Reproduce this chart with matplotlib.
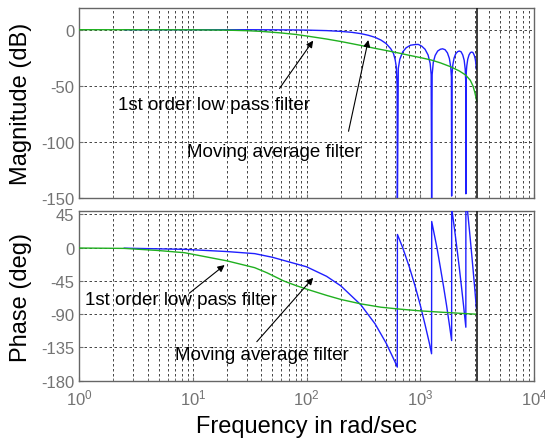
import numpy as np
import matplotlib
matplotlib.use("Agg")
import matplotlib.pyplot as plt

plt.rcParams['font.family'] = ['Liberation Sans', 'DejaVu Sans']
plt.rcParams['mathtext.default'] = 'regular'
plt.rcParams['axes.unicode_minus'] = False

# -------------------------------
# DATA
# -------------------------------

# 1st order low pass filter
lp_mag_w = [1, 10, 20, 30, 40, 60, 80, 100, 150, 200, 300, 400, 500, 628, 800,
            1000, 1250, 1500, 1850, 2200, 2500, 2750, 2900, 3000, 3080, 3140]
lp_mag_db = [0, -0.1, -0.4, -0.9, -1.5, -2.9, -4.2, -5.6, -8.3, -10.5, -14, -16.6,
             -18.5, -20.5, -22.8, -24.8, -27, -29.5, -33, -36.7, -40.3, -45, -50,
             -55, -60, -64]

lp_ph_w = [1, 2.5, 5, 8.5, 20, 35, 45, 63, 80, 100, 150, 200, 300, 450, 650, 1000,
           1500, 2000, 2500, 3140]
lp_ph_deg = [-0.4, -0.9, -3.8, -6.8, -17.8, -27, -34, -45, -51, -56, -64.5, -70,
             -76, -80.5, -83, -85.5, -87.2, -88.3, -89.2, -90]

# moving average filter
ma_mag_w = [2.5, 10, 30, 50, 80, 100, 150, 200, 250, 300, 350, 400, 450, 500, 550,
            580, 600, 615, 625, 628,
            640, 660, 700, 750, 820, 900, 960, 1030, 1100, 1170, 1220, 1245, 1257,
            1270, 1300, 1350, 1420, 1500, 1570, 1650, 1730, 1800, 1850, 1875, 1885,
            1900, 1930, 1980, 2050, 2130, 2200, 2280, 2360, 2430, 2480, 2505, 2513,
            2525, 2560, 2610, 2680, 2760, 2830, 2900, 2980, 3040, 3080, 3110]
ma_mag_db = [0, 0, -0.03, -0.09, -0.23, -0.36, -0.82, -1.5, -2.35, -3.5, -5.0, -6.8,
             -9.2, -12.3, -17, -21, -26.4, -33, -50, -170,
             -34.6, -26.3, -19.8, -16.1, -13.8, -13.2, -13.1, -14.7, -17.4, -22.5,
             -30, -40, -150,
             -40, -29, -22.9, -19, -17.4, -17, -17.8, -20.6, -25.6, -33.2, -42, -148,
             -40, -31.3, -25.2, -21.3, -19.5, -19, -19.6, -22.5, -27.3, -35.1, -45,
             -146,
             -40, -32.3, -26.3, -22.4, -20.3, -19.9, -20.3, -22.8, -26.2, -30.4, -35]

ma_ph_w = [2.5, 8.5, 20, 35, 50, 100, 150, 200, 300, 400, 500, 600, 627,
           629, 700, 800, 900, 1000, 1100, 1200, 1255,
           1259, 1400, 1500, 1600, 1700, 1800, 1884,
           1886, 2000, 2100, 2200, 2300, 2400, 2512,
           2514, 2600, 2700, 2800, 2900, 3000, 3110]
ma_ph_deg = [-0.6, -2.2, -5.2, -8, -12.9, -25.8, -38.7, -51.6, -77.3, -103, -129,
             -154.7, -161.6,
             18, 0, -26, -52, -78, -104, -129, -143.5,
             35.5, 0, -26.7, -52.5, -78, -104, -125.7,
             54, 24.4, -1.4, -27, -53, -78.7, -107.6,
             72, 49.7, 24, -1.8, -27.6, -53, -81.8]

nyquist_w = 3142

mag_ticks = [0, -50, -100, -150]
phase_ticks = [45, 0, -45, -90, -135, -180]
freq_ticks = [1, 10, 100, 1000, 10000]
freq_labels = ['$10^{0}$', '$10^{1}$', '$10^{2}$', '$10^{3}$', '$10^{4}$']

# -------------------------------
# FIGURE
# -------------------------------

blue = '#1f1fff'
green = '#20b020'
grid_kw = dict(color='0.15', linestyle=(0, (3, 3)), linewidth=0.6)
arrow_kw = dict(arrowstyle='-|>', color='k', lw=0.8, mutation_scale=10)

fig = plt.figure(figsize=(5.45, 4.39), dpi=100)
ax1 = fig.add_axes([0.145, 0.546, 0.835, 0.4335])
ax2 = fig.add_axes([0.145, 0.1305, 0.835, 0.3859])

for ax in (ax1, ax2):
    ax.set_xscale('log')
    ax.set_xlim(1, 10000)
    ax.set_xticks(freq_ticks)
    ax.grid(True, which='major', axis='both', **grid_kw)
    ax.grid(True, which='minor', axis='x', **grid_kw)
    ax.tick_params(which='both', direction='in', length=3, colors='0.45',
                   labelsize=12)
    ax.tick_params(which='minor', length=2)
    for s in ax.spines.values():
        s.set_color('0.4')
        s.set_linewidth(1.0)
    ax.axvline(nyquist_w, color='0.1', linewidth=1.2, zorder=4)

# magnitude
ax1.plot(ma_mag_w, ma_mag_db, color=blue, linewidth=1.0, zorder=3)
ax1.plot(lp_mag_w, lp_mag_db, color=green, linewidth=1.0, zorder=3)
ax1.set_ylim(-150, 19.3)
ax1.set_yticks(mag_ticks)
ax1.set_yticklabels([str(t) for t in mag_ticks])
ax1.set_xticklabels([])
ax1.set_ylabel('Magnitude (dB)', fontsize=17)
ax1.yaxis.set_label_coords(-0.103, 0.5)

ax1.text(2.2, -70.6, '1st order low pass filter', fontsize=13.5, va='baseline')
ax1.annotate('', xy=(118, -7.7), xytext=(56, -54.3), arrowprops=arrow_kw)
ax1.text(8.9, -112, 'Moving average filter', fontsize=13.5, va='baseline')
ax1.annotate('', xy=(353, -6.8), xytext=(231, -92.8), arrowprops=arrow_kw)

# phase
ax2.plot(ma_ph_w, ma_ph_deg, color=blue, linewidth=1.0, zorder=3)
ax2.plot(lp_ph_w, lp_ph_deg, color=green, linewidth=1.0, zorder=3)
ax2.set_ylim(-180, 49.3)
ax2.set_yticks(phase_ticks)
ax2.set_yticklabels([str(t) for t in phase_ticks])
ax2.set_xticklabels(freq_labels)
ax2.tick_params(axis='x', pad=5)
ax2.set_ylabel('Phase (deg)', fontsize=17)
ax2.yaxis.set_label_coords(-0.103, 0.5)
ax2.set_xlabel('Frequency in rad/sec', fontsize=17)
ax2.xaxis.set_label_coords(0.5, -0.2025)

ax2.text(1.13, -76.2, '1st order low pass filter', fontsize=13.5, va='baseline')
ax2.annotate('', xy=(19.9, -21.1), xytext=(8.9, -64), arrowprops=arrow_kw)
ax2.text(6.97, -150.6, 'Moving average filter', fontsize=13.5, va='baseline')
ax2.annotate('', xy=(118.6, -37.9), xytext=(35.2, -130), arrowprops=arrow_kw)

fig.savefig('out.png', dpi=100)
